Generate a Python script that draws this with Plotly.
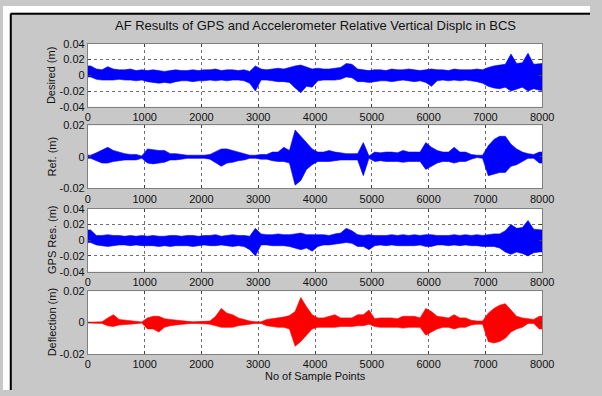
import plotly.graph_objects as go

# Envelope of each signal per 100-sample bin (bin i covers samples 100*i .. 100*i+100), values in mm
bin_width = 100
n_bins = 80

desired_hi = [12, 8, 7, 11, 8, 7, 7, 8, 6, 7,
              6, 7, 6, 5, 6, 7, 6, 6, 7, 6,
              7, 7, 8, 6, 7, 7, 6, 7, 5, 12,
              8, 7, 8, 9, 8, 10, 12, 13, 10, 8,
              9, 8, 8, 9, 10, 15, 14, 8, 7, 6,
              7, 7, 6, 8, 7, 7, 8, 7, 6, 7,
              8, 7, 7, 6, 8, 7, 7, 7, 8, 7,
              10, 12, 13, 14, 27, 15, 16, 28, 14, 15]
desired_lo = [-2, -5, -6, -6, -6, -5, -6, -6, -7, -6,
              -8, -9, -10, -9, -10, -8, -7, -7, -8, -7,
              -7, -6, -7, -6, -7, -6, -6, -7, -10, -20,
              -6, -6, -7, -8, -8, -9, -16, -22, -14, -15,
              -7, -6, -6, -6, -5, -2, -3, -8, -8, -9,
              -8, -7, -7, -8, -7, -6, -7, -8, -7, -9,
              -14, -7, -6, -7, -6, -7, -6, -7, -8, -10,
              -14, -16, -17, -15, -20, -18, -15, -20, -17, -19]

ref_hi = [1, 2.5, 4, 6, 4, 3, 2, 1.5, 1.5, 0.5,
          5, 4.5, 4, 4, 2, 2, 1.5, 1, 1, 1,
          1, 1.5, 3, 5, 5, 4, 3, 2, 1, 1,
          1.5, 1.5, 3, 3, 6, 4, 17, 13, 9, 5,
          3, 3, 4, 3, 2.5, 2, 2, 2, 9, 0.5,
          3, 2.5, 3, 3, 2.5, 4, 3, 3, 3, 9,
          6, 4, 3, 3, 6, 3, 3, 1.5, 1, 1,
          7, 11, 13, 13, 8, 5, 3, 2, 1.5, 3]
ref_lo = [-1, -2.5, -4, -4, -3, -2.5, -2, -2, -2, -1,
          -4, -4.5, -4, -3.5, -2, -2, -1.5, -1, -1, -1,
          -1, -1.5, -4, -6, -4, -3.5, -2.5, -2, -1, -1,
          -1.5, -1.5, -2.5, -3, -3, -4, -18, -15, -8, -5,
          -3, -3, -3, -2.5, -2, -2, -2, -2, -12, -1,
          -3, -2.5, -3, -3, -3, -3.5, -3, -3, -3, -8,
          -6, -4, -3, -3, -4, -3, -3, -1.5, -0.5, -1,
          -12, -11, -10, -10, -6, -5, -3, -1, -1, -4]

gps_hi = [13, 6, 6, 7, 6, 6, 5, 6, 5, 6,
          5, 6, 5, 5, 6, 6, 5, 6, 6, 5,
          6, 6, 7, 5, 6, 7, 6, 6, 5, 15,
          8, 7, 7, 8, 7, 7, 8, 9, 7, 7,
          7, 7, 6, 8, 9, 15, 12, 7, 6, 7,
          6, 6, 6, 7, 6, 7, 6, 7, 6, 7,
          7, 6, 6, 6, 7, 6, 7, 6, 7, 6,
          7, 8, 8, 12, 20, 15, 16, 25, 14, 13]
gps_lo = [-3, -6, -7, -8, -7, -6, -6, -7, -6, -7,
          -7, -7, -8, -7, -8, -7, -7, -7, -8, -7,
          -6, -7, -7, -6, -7, -8, -7, -8, -12, -20,
          -6, -6, -7, -7, -7, -8, -10, -12, -10, -14,
          -8, -6, -6, -5, -4, -3, -4, -8, -8, -12,
          -7, -6, -7, -6, -7, -7, -7, -7, -6, -8,
          -8, -6, -6, -7, -6, -7, -6, -7, -7, -8,
          -8, -8, -10, -15, -18, -15, -17, -20, -16, -15]

defl_hi = [0.3, 0.3, 0.5, 3, 5, 2, 1.5, 1, 0.8, 0.4,
           3, 4, 4, 2.5, 2, 1.5, 1, 0.8, 0.5, 0.5,
           0.8, 1, 4, 9, 6, 5, 3, 2, 1, 0.5,
           0.5, 2, 2.5, 3, 3.5, 4.5, 7, 16, 10, 5,
           3, 3, 4, 5, 3, 3, 3, 5, 5, 8,
           2.5, 3, 3, 3, 2.5, 4, 4, 4, 3, 9,
           7, 4, 3.5, 3, 5, 3, 3, 1.5, 1, 1,
           6, 9, 11, 12, 8, 4, 3, 2.5, 2, 4]
defl_lo = [-0.3, -0.3, -0.5, -2, -2.5, -1.5, -1, -1, -0.7, -0.3,
           -4, -4, -6, -3, -2, -1.5, -1, -0.8, -0.5, -0.5,
           -0.8, -1, -2, -3, -3, -3, -2, -1.5, -1, -0.5,
           -0.5, -2, -2.5, -3, -3, -4, -15, -12, -8, -4,
           -3, -3, -3, -3, -2.5, -2.5, -2.5, -2, -2, -1,
           -2.5, -3, -3, -3, -3, -3.5, -3, -3, -3, -8,
           -6, -4, -3, -3, -4, -3, -3, -1.5, -1, -1,
           -12, -13, -12, -10, -6, -4, -3, -0.5, -0.5, -4]

panels = [
    ("Desired (m)", desired_hi, desired_lo, "#0000ff", [-0.04, -0.02, 0, 0.02, 0.04], ["-0.04", "-0.02", "0", "0.02", "0.04"]),
    ("Ref. (m)", ref_hi, ref_lo, "#0000ff", [-0.02, 0, 0.02], ["-0.02", "0", "0.02"]),
    ("GPS Res. (m)", gps_hi, gps_lo, "#0000ff", [-0.04, -0.02, 0, 0.02, 0.04], ["-0.04", "-0.02", "0", "0.02", "0.04"]),
    ("Deflection (m)", defl_hi, defl_lo, "#ff0000", [-0.02, 0, 0.02], ["-0.02", "0", "0.02"]),
]
x_ticks = [0, 1000, 2000, 3000, 4000, 5000, 6000, 7000, 8000]
title_text = "AF Results of GPS and Accelerometer Relative Vertical Displc in BCS"
xlabel_text = "No of Sample Points"

W, H = 602, 396
px_x = lambda p: p / W
px_y = lambda p: 1 - p / H
plot_left, plot_right = 87, 553
panel_pix = [(39, 104), (123, 188), (209, 274), (294, 359)]

FONT = "Liberation Sans, Arial, sans-serif"
fig = go.Figure()
annotations = []
layout = {}
for k, (label, hi, lo, color, yt, ytt) in enumerate(panels):
    n = k + 1
    xa = "x" if n == 1 else f"x{n}"
    ya = "y" if n == 1 else f"y{n}"
    hi_m = [v / 1000 for v in hi]
    lo_m = [v / 1000 for v in lo]
    centers = [bin_width * i + bin_width / 2 for i in range(n_bins)]
    # filled band between the signal's upper and lower envelopes
    fig.add_trace(go.Scatter(
        x=[0] + centers + [n_bins * bin_width] + [n_bins * bin_width] + centers[::-1] + [0],
        y=[hi_m[0]] + hi_m + [hi_m[-1]] + [lo_m[-1]] + lo_m[::-1] + [lo_m[0]],
        fill="toself", fillcolor=color, mode="lines",
        line=dict(color=color, width=0.6), xaxis=xa, yaxis=ya,
        showlegend=False, hoverinfo="skip"))
    top, bot = panel_pix[k]
    axis_common = dict(showline=True, linecolor="#808080", linewidth=1, mirror="ticks",
                       ticks="inside", ticklen=3, tickcolor="#404040",
                       showgrid=True, gridcolor="#707070", griddash="dot", gridwidth=1,
                       zeroline=False, tickfont=dict(family=FONT, size=11, color="#111"))
    layout["xaxis" if n == 1 else f"xaxis{n}"] = dict(
        domain=[px_x(plot_left), px_x(plot_right)], anchor=ya, range=[0, 8000],
        tickvals=x_ticks, ticktext=[str(t) for t in x_ticks], **axis_common)
    layout["yaxis" if n == 1 else f"yaxis{n}"] = dict(
        domain=[px_y(bot), px_y(top)], anchor=xa, range=[yt[0], yt[-1]],
        tickvals=yt, ticktext=ytt, **axis_common)
    annotations.append(dict(text=label, x=px_x(50), y=px_y((top + bot) / 2), xref="paper", yref="paper",
                            showarrow=False, textangle=-90, font=dict(family=FONT, size=11, color="#111"),
                            xanchor="center", yanchor="middle"))

annotations.append(dict(text=title_text, x=px_x(320), y=px_y(20), xref="paper", yref="paper",
                        showarrow=False, font=dict(family=FONT, size=13, color="#111"),
                        xanchor="center", yanchor="middle"))
annotations.append(dict(text=xlabel_text, x=px_x(320), y=px_y(382), xref="paper", yref="paper",
                        showarrow=False, font=dict(family=FONT, size=11, color="#111"),
                        xanchor="center", yanchor="middle"))

shapes = [
    dict(type="rect", xref="paper", yref="paper", x0=0, x1=1, y0=px_y(7), y1=1,
         fillcolor="white", line=dict(width=0)),
    dict(type="rect", xref="paper", yref="paper", x0=0, x1=px_x(7), y0=0, y1=1,
         fillcolor="white", line=dict(width=0)),
    dict(type="line", xref="paper", yref="paper", x0=px_x(8), x1=1, y0=px_y(8), y1=px_y(8),
         line=dict(color="black", width=2)),
    dict(type="line", xref="paper", yref="paper", x0=px_x(8), x1=px_x(8), y0=px_y(8), y1=0,
         line=dict(color="black", width=2)),
]

fig.update_layout(width=W, height=H, margin=dict(l=0, r=0, t=0, b=0),
                  paper_bgcolor="#c8c8c8", plot_bgcolor="white",
                  annotations=annotations, shapes=shapes, showlegend=False, **layout)
fig.write_html("out.html")
